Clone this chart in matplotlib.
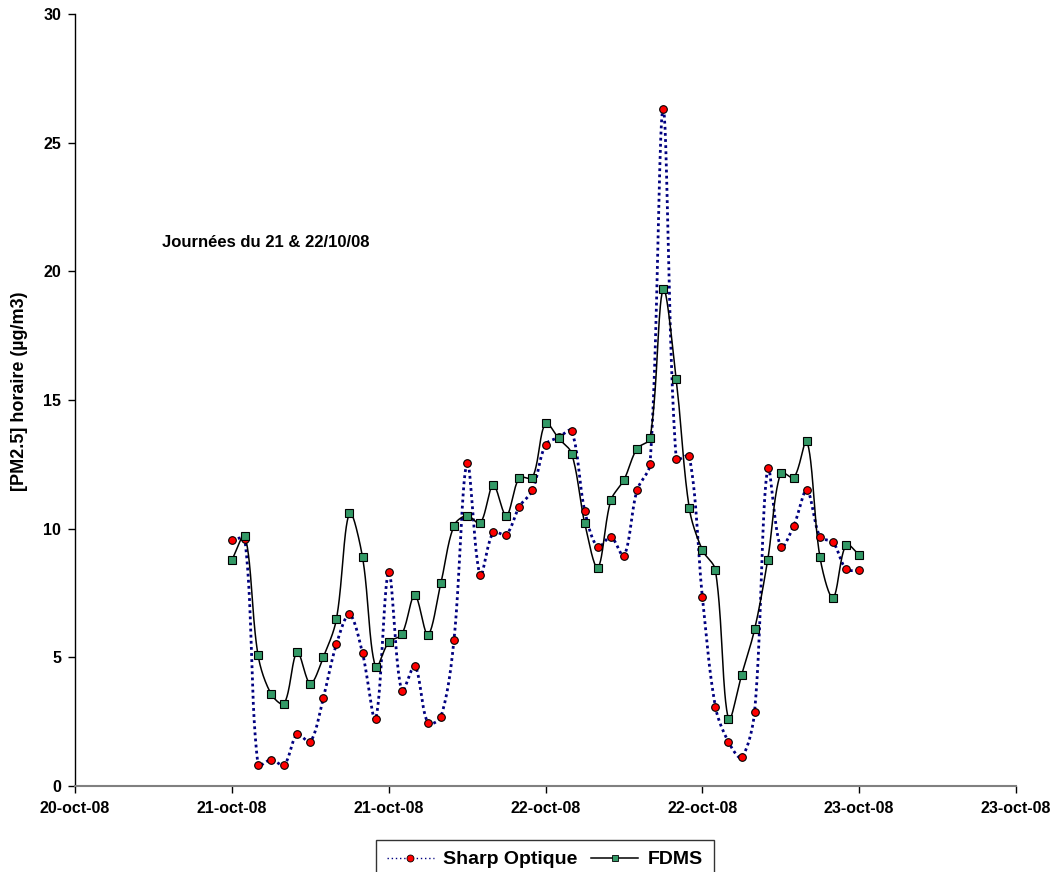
import numpy as np
import pandas as pd
import matplotlib
matplotlib.use("Agg")
import matplotlib.pyplot as plt
import matplotlib.dates as mdates
from matplotlib.lines import Line2D

# Hourly PM2.5 concentrations, 21/10/08 00:00 -> 23/10/08 00:00
times = pd.date_range("2008-10-21 00:00", "2008-10-23 00:00", freq="h")

sharp_optique = [
    9.57, 9.59, 0.82, 1.02, 0.82, 2.01, 1.71, 3.43, 5.51, 6.67, 5.16, 2.60,
    8.30, 3.68, 4.66, 2.45, 2.69, 5.69, 12.57, 8.19, 9.86, 9.77, 10.86, 11.49,
    13.26, 13.55, 13.80, 10.70, 9.28, 9.68, 8.94, 11.49, 12.51, 26.29, 12.71, 12.82,
    7.36, 3.08, 1.71, 1.11, 2.89, 12.37, 9.28, 10.12, 11.49, 9.68, 9.47, 8.43,
    8.38,
]

fdms = [
    8.78, 9.73, 5.10, 3.58, 3.20, 5.20, 3.98, 5.01, 6.48, 10.61, 8.89, 4.61,
    5.59, 5.89, 7.41, 5.88, 7.90, 10.12, 10.51, 10.21, 11.69, 10.51, 11.98, 11.98,
    14.10, 13.51, 12.92, 10.21, 8.49, 11.10, 11.89, 13.11, 13.51, 19.30, 15.82, 10.80,
    9.17, 8.39, 2.59, 4.31, 6.09, 8.78, 12.18, 11.98, 13.41, 8.89, 7.32, 9.38,
    8.98,
]

tick_times = pd.date_range("2008-10-20 12:00", "2008-10-23 12:00", freq="12h")
tick_labels = ["20-oct-08", "21-oct-08", "21-oct-08", "22-oct-08",
               "22-oct-08", "23-oct-08", "23-oct-08"]

y_ticks = [0, 5, 10, 15, 20, 25, 30]
y_label = "[PM2.5] horaire (µg/m3)"
note = "Journées du 21 & 22/10/08"
series_names = ["Sharp Optique", "FDMS"]

plt.rcParams["font.family"] = ["Liberation Sans", "DejaVu Sans"]
plt.rcParams["font.weight"] = "bold"

fig = plt.figure(figsize=(10.56, 8.72), dpi=100)
ax = fig.add_axes([75 / 1056, 1 - 786 / 872, (1016 - 75) / 1056, (786 - 14) / 872])

tnum = mdates.date2num(tick_times.to_pydatetime())
ax.set_xlim(tnum[0], tnum[-1])
ax.set_ylim(0, 30)


def smooth_curve(x, y, steps=30):
    """Spreadsheet-style smoothed line: cubic Bezier segments whose control
    arms are scaled by the on-screen length of the neighbouring segments."""
    x = np.asarray(x, float)
    y = np.asarray(y, float)
    disp = ax.transData.transform(np.column_stack([x, y]))
    n = len(disp)
    seg_len = np.hypot(*np.diff(disp, axis=0).T)
    arm_out = np.zeros((n, 2))
    arm_in = np.zeros((n, 2))
    for i in range(n):
        prev_p = disp[max(i - 1, 0)]
        next_p = disp[min(i + 1, n - 1)]
        tangent = next_p - prev_p
        d_prev = seg_len[i - 1] if i > 0 else 0.0
        d_next = seg_len[i] if i < n - 1 else 0.0
        total = d_prev + d_next
        if total == 0:
            continue
        arm_out[i] = tangent * d_next / total / 3.0
        arm_in[i] = tangent * d_prev / total / 3.0
    t = np.linspace(0, 1, steps)[:, None]
    pts = []
    for i in range(n - 1):
        p1, p2 = disp[i], disp[i + 1]
        c1 = p1 + arm_out[i]
        c2 = p2 - arm_in[i + 1]
        seg = ((1 - t) ** 3) * p1 + 3 * ((1 - t) ** 2) * t * c1 \
            + 3 * (1 - t) * t ** 2 * c2 + t ** 3 * p2
        pts.append(seg if i == 0 else seg[1:])
    pts = np.vstack(pts)
    data = ax.transData.inverted().transform(pts)
    return data[:, 0], data[:, 1]


xnum = mdates.date2num(times.to_pydatetime())

sx, sy = smooth_curve(xnum, sharp_optique)
ax.plot(sx, sy, color="#000080", linestyle=(0, (1, 1.2)), linewidth=2.0, zorder=2)
ax.plot(xnum, sharp_optique, linestyle="none", marker="o", markersize=5.5,
        markerfacecolor="#ff0000", markeredgecolor="black", markeredgewidth=0.8,
        zorder=4)

fx, fy = smooth_curve(xnum, fdms)
ax.plot(fx, fy, color="black", linestyle="-", linewidth=1.1, zorder=3)
ax.plot(xnum, fdms, linestyle="none", marker="s", markersize=5.2,
        markerfacecolor="#339966", markeredgecolor="black", markeredgewidth=0.8,
        zorder=5)

ax.set_xticks(tnum)
ax.set_xticklabels(tick_labels, fontsize=11.5, fontweight="bold")
ax.set_yticks(y_ticks)
ax.set_yticklabels([str(v) for v in y_ticks], fontsize=11.5, fontweight="bold")

for side in ("top", "right"):
    ax.spines[side].set_visible(False)
ax.spines["left"].set_color("black")
ax.spines["bottom"].set_color("#808080")
ax.spines["left"].set_linewidth(1.0)
ax.spines["bottom"].set_linewidth(1.5)
ax.tick_params(axis="both", direction="out", length=5, width=1.0, color="black")
ax.tick_params(axis="x", pad=6)
ax.tick_params(axis="y", pad=5)

ax.set_ylabel(y_label, fontsize=13, fontweight="bold")
ax.yaxis.set_label_coords(-0.05, (786 - 391) / 772)

ax.text(162 / 1056, 1 - 242 / 872, note, transform=fig.transFigure,
        fontsize=12, fontweight="bold", va="center", ha="left")

handles = [
    Line2D([], [], color="#000080", linestyle=(0, (1, 2)), linewidth=1.0,
           marker="o", markersize=5, markerfacecolor="#ff0000",
           markeredgecolor="black", markeredgewidth=0.6),
    Line2D([], [], color="black", linestyle="-", linewidth=1.1,
           marker="s", markersize=4.5, markerfacecolor="#339966",
           markeredgecolor="black", markeredgewidth=0.6),
]
leg = fig.legend(handles, series_names, loc="upper center",
                 bbox_to_anchor=(545 / 1056, 1 - 840 / 872), ncol=2,
                 frameon=True, fancybox=False, edgecolor="black",
                 prop={"size": 14, "weight": "bold"}, handlelength=2.4,
                 columnspacing=0.7, handletextpad=0.5, borderpad=0.55,
                 borderaxespad=0.0)
leg.get_frame().set_linewidth(1.0)

fig.savefig("out.png", dpi=100)
